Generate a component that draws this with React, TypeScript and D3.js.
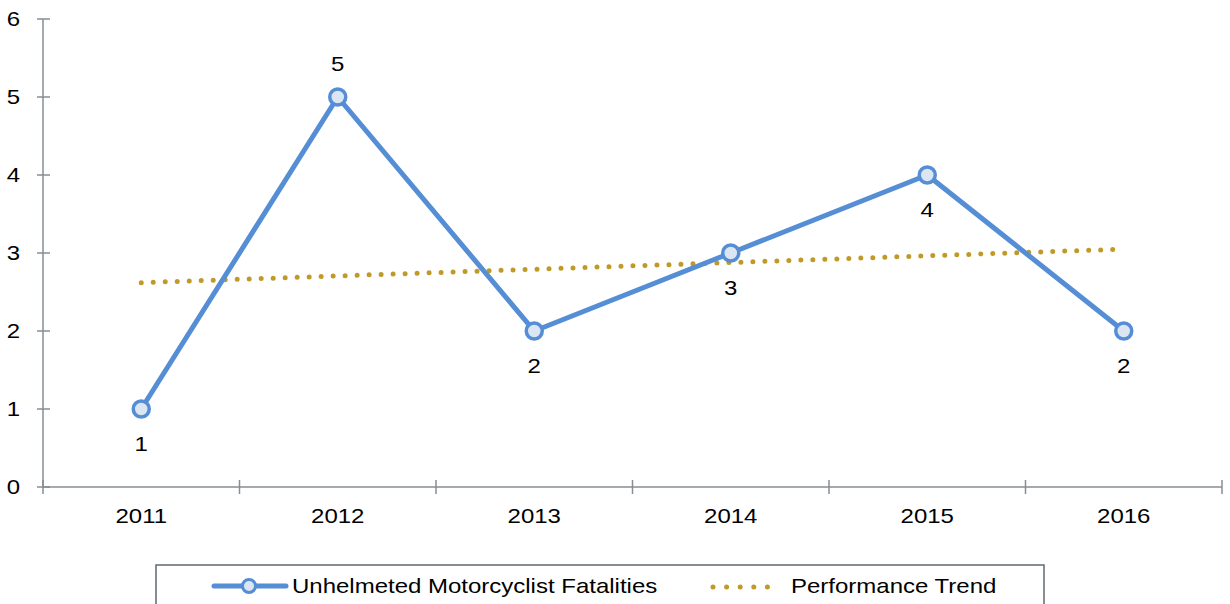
import React, { useEffect, useRef } from 'react';
import * as d3 from 'd3';

const years = ['2011', '2012', '2013', '2014', '2015', '2016'];
const fatalities = [1, 5, 2, 3, 4, 2];
const labelAbove = [false, true, false, false, false, false];
const trendEnds = [2.62, 3.05];
const yTicks = [0, 1, 2, 3, 4, 5, 6];

const W = 1230;
const H = 604;
const BLUE = '#558ED5';
const GOLD = '#C09A28';
const AXIS = '#868E93';
const FONT = '"Liberation Sans", Arial, sans-serif';
const STRETCH = 1.2; // source text is a little wider than Arial

const App = () => {
  const ref = useRef<SVGSVGElement>(null);

  useEffect(() => {
    const svg = d3.select(ref.current);
    svg.selectAll('*').remove();

    const x = d3.scaleBand().domain(years).range([43, 1222]);
    const y = d3.scaleLinear().domain([0, 6]).range([487, 19]);
    const cx = (d: string) => (x(d) as number) + x.bandwidth() / 2;
    const place = (px: number, py: number) => `translate(${px},${py}) scale(${STRETCH},1)`;

    // axes
    const g = svg.append('g');
    g.append('line').attr('x1', 43).attr('x2', 43).attr('y1', y(6)).attr('y2', y(0))
      .attr('stroke', AXIS).attr('stroke-width', 1.5);
    g.append('line').attr('x1', 43).attr('x2', 1222).attr('y1', y(0)).attr('y2', y(0))
      .attr('stroke', AXIS).attr('stroke-width', 1.5);

    g.selectAll('.yt').data(yTicks).enter().append('line')
      .attr('x1', 37).attr('x2', 50).attr('y1', d => y(d)).attr('y2', d => y(d))
      .attr('stroke', AXIS).attr('stroke-width', 1.5);
    g.selectAll('.yl').data(yTicks).enter().append('text')
      .attr('transform', d => place(20, y(d))).attr('dy', '0.35em')
      .attr('text-anchor', 'end').style('font-family', FONT).style('font-size', '20px')
      .text(d => d);

    const bounds = [x(years[0]) as number, ...years.map(d => (x(d) as number) + x.bandwidth())];
    g.selectAll('.xt').data(bounds).enter().append('line')
      .attr('x1', d => d).attr('x2', d => d).attr('y1', y(0) - 7).attr('y2', y(0) + 7)
      .attr('stroke', AXIS).attr('stroke-width', 1.5);
    g.selectAll('.xl').data(years).enter().append('text')
      .attr('transform', d => place(cx(d), 523)).attr('text-anchor', 'middle')
      .style('font-family', FONT).style('font-size', '20px').text(d => d);

    // trend
    svg.append('line')
      .attr('x1', cx(years[0])).attr('y1', y(trendEnds[0]))
      .attr('x2', cx(years[years.length - 1])).attr('y2', y(trendEnds[1]))
      .attr('stroke', GOLD).attr('stroke-width', 5)
      .attr('stroke-linecap', 'round').attr('stroke-dasharray', '0 12');

    // series
    const line = d3.line<number>().x((_, i) => cx(years[i])).y(d => y(d));
    svg.append('path').datum(fatalities).attr('d', line)
      .attr('fill', 'none').attr('stroke', BLUE).attr('stroke-width', 5)
      .attr('stroke-linejoin', 'round');
    svg.selectAll('.pt').data(fatalities).enter().append('circle')
      .attr('cx', (_, i) => cx(years[i])).attr('cy', d => y(d)).attr('r', 8)
      .attr('fill', '#DCE6F2').attr('stroke', BLUE).attr('stroke-width', 3.5);
    svg.selectAll('.lbl').data(fatalities).enter().append('text')
      .attr('transform', (d, i) => place(cx(years[i]), labelAbove[i] ? y(d) - 26 : y(d) + 42))
      .attr('text-anchor', 'middle').style('font-family', FONT).style('font-size', '20px')
      .text(d => d);

    // legend
    const lg = svg.append('g');
    lg.append('rect').attr('x', 156).attr('y', 565).attr('width', 888).attr('height', 60)
      .attr('fill', 'white').attr('stroke', '#5F6A72').attr('stroke-width', 1.5);
    lg.append('line').attr('x1', 214).attr('x2', 286).attr('y1', 586).attr('y2', 586)
      .attr('stroke', BLUE).attr('stroke-width', 5).attr('stroke-linecap', 'round');
    lg.append('circle').attr('cx', 249).attr('cy', 586).attr('r', 6.5)
      .attr('fill', '#DCE6F2').attr('stroke', BLUE).attr('stroke-width', 3);
    lg.append('text').attr('transform', place(292, 593)).style('font-family', FONT)
      .style('font-size', '20px').text('Unhelmeted Motorcyclist Fatalities');
    lg.append('line').attr('x1', 713).attr('x2', 781).attr('y1', 587).attr('y2', 587)
      .attr('stroke', GOLD).attr('stroke-width', 5)
      .attr('stroke-linecap', 'round').attr('stroke-dasharray', '0 13.6');
    lg.append('text').attr('transform', place(791, 593)).style('font-family', FONT)
      .style('font-size', '20px').text('Performance Trend');
  }, []);

  return (
    <svg ref={ref} width={W} height={H}
      style={{ position: 'absolute', left: 0, top: 0, background: 'white' }} />
  );
};

export default App;
